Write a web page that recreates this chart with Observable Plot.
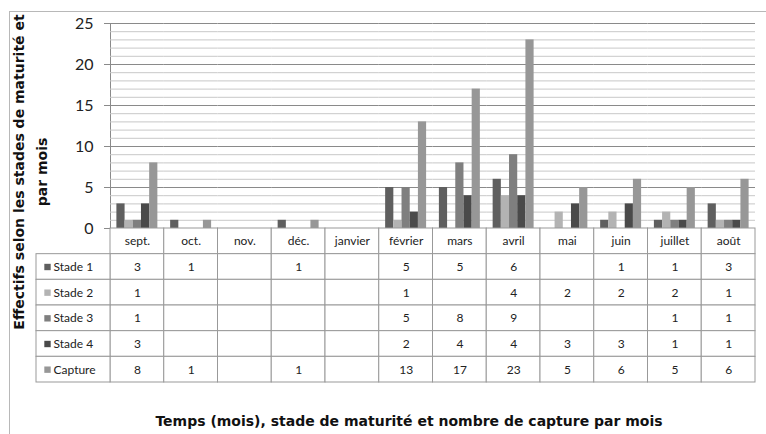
<!DOCTYPE html>
<html><head><meta charset="utf-8">
<script src="https://cdn.jsdelivr.net/npm/d3@7"></script>
<script src="https://cdn.jsdelivr.net/npm/@observablehq/plot@0.6"></script>
<style>
html,body{margin:0;padding:0;background:#fff;overflow:hidden;}
#wrap{position:relative;width:766px;height:434px;font-family:Lato,"Open Sans",sans-serif;}
#border{position:absolute;left:9px;top:11px;width:800px;height:500px;border:1px solid #b8b8b8;box-sizing:border-box;}
#bars{position:absolute;left:0;top:0;}
#table{position:absolute;left:0;top:228px;}
#ytitle{position:absolute;left:-149px;top:149px;width:360px;height:46px;transform:rotate(-90deg);transform-origin:50% 50%;text-align:center;font-family:"DejaVu Sans",sans-serif;font-weight:bold;font-size:14px;line-height:23px;color:#111;white-space:nowrap;}
#xtitle{position:absolute;left:0;width:818px;top:413px;text-align:center;font-family:"DejaVu Sans",sans-serif;font-weight:bold;font-size:14px;color:#111;white-space:nowrap;}
</style></head>
<body><div id="wrap"><div id="border"></div><div id="bars"></div><div id="table"></div>
<div id="ytitle">Effectifs selon les stades de maturité et<br>par mois</div>
<div id="xtitle">Temps (mois), stade de maturité et nombre de capture par mois</div>
</div>
<script>
const months = ["sept.","oct.","nov.","déc.","janvier","février","mars","avril","mai","juin","juillet","août"];
const series = ["Stade 1","Stade 2","Stade 3","Stade 4","Capture"];
const colors = ["#5f5f5f","#b3b3b3","#7f7f7f","#4a4a4a","#979797"];
const stade1  = [3,1,null,1,null,5,5,6,null,1,1,3];
const stade2  = [1,null,null,null,null,1,null,4,2,2,2,1];
const stade3  = [1,null,null,null,null,5,8,9,null,null,1,1];
const stade4  = [3,null,null,null,null,2,4,4,3,3,1,1];
const capture = [8,1,null,1,null,13,17,23,5,6,5,6];
const yTicks = [0,5,10,15,20,25];

const values = [stade1, stade2, stade3, stade4, capture];
const data = [];
months.forEach((m, i) => series.forEach((s, j) => {
  if (values[j][i] != null) data.push({month: m, series: s, value: values[j][i]});
}));
// gridlines, one set per month panel
const grid = [];
months.forEach(m => d3.range(0, 26).forEach(v => grid.push({month: m, v, major: v % 5 === 0})));

const bars = Plot.plot({
  width: 766, height: 229,
  marginTop: 23, marginBottom: 1, marginLeft: 110, marginRight: 11,
  style: {fontFamily: "Lato, sans-serif", fontSize: "16px", color: "#8a8a8a", background: "transparent", overflow: "visible"},
  fx: {domain: months, padding: 0, round: false, axis: null},
  x: {domain: series, paddingInner: 0, paddingOuter: 0.78, round: false, axis: null},
  y: {domain: [0, 25], ticks: yTicks, tickSize: 6, tickPadding: 11, label: null, line: true},
  color: {domain: series, range: colors},
  marks: [
    Plot.ruleY(grid.filter(d => !d.major), {fx: "month", y: "v", stroke: "#c8c8c8"}),
    Plot.ruleY(grid.filter(d => d.major), {fx: "month", y: "v", stroke: "#8a8a8a"}),
    Plot.barY(data, {fx: "month", x: "series", y: "value", fill: "series"})
  ]
});
bars.querySelectorAll("[aria-label='y-axis tick label']").forEach(e => e.setAttribute("fill", "#222"));
document.getElementById("bars").appendChild(bars);

const rows = ["header", ...series];
const legendW = 74 / 53.75;
const cells = [];
months.forEach((m, i) => rows.forEach((r, k) => {
  let label = "";
  if (r === "header") label = m;
  else { const v = values[k - 1][i]; label = v == null ? "" : String(v); }
  cells.push({x1: i, x2: i + 1, row: r, label});
}));
const legendCells = series.map(s => ({x1: -legendW, x2: 0, row: s, label: s}));

const table = Plot.plot({
  width: 766, height: 155,
  marginTop: 0, marginBottom: 1, marginLeft: 36, marginRight: 11,
  style: {fontFamily: "Lato, sans-serif", background: "transparent", overflow: "visible"},
  x: {domain: [-legendW, 12], axis: null},
  y: {domain: rows, padding: 0, round: false, axis: null},
  color: {domain: series, range: colors},
  marks: [
    Plot.barX(cells, {x1: "x1", x2: "x2", y: "row", fill: "white", stroke: "#999", strokeWidth: 1}),
    Plot.barX(legendCells, {x1: "x1", x2: "x2", y: "row", fill: "white", stroke: "#999", strokeWidth: 1}),
    Plot.text(cells, {x: d => d.x1 + 0.5, y: "row", text: "label", fontSize: 12, fill: "#222"}),
    Plot.dot(legendCells, {x: "x1", y: "row", dx: 11, symbol: "square", r: 3.6, fill: "label", stroke: null}),
    Plot.text(legendCells, {x: "x1", y: "row", dx: 17, text: "label", textAnchor: "start", fontSize: 12, fill: "#222"})
  ]
});
document.getElementById("table").appendChild(table);
</script></body></html>
